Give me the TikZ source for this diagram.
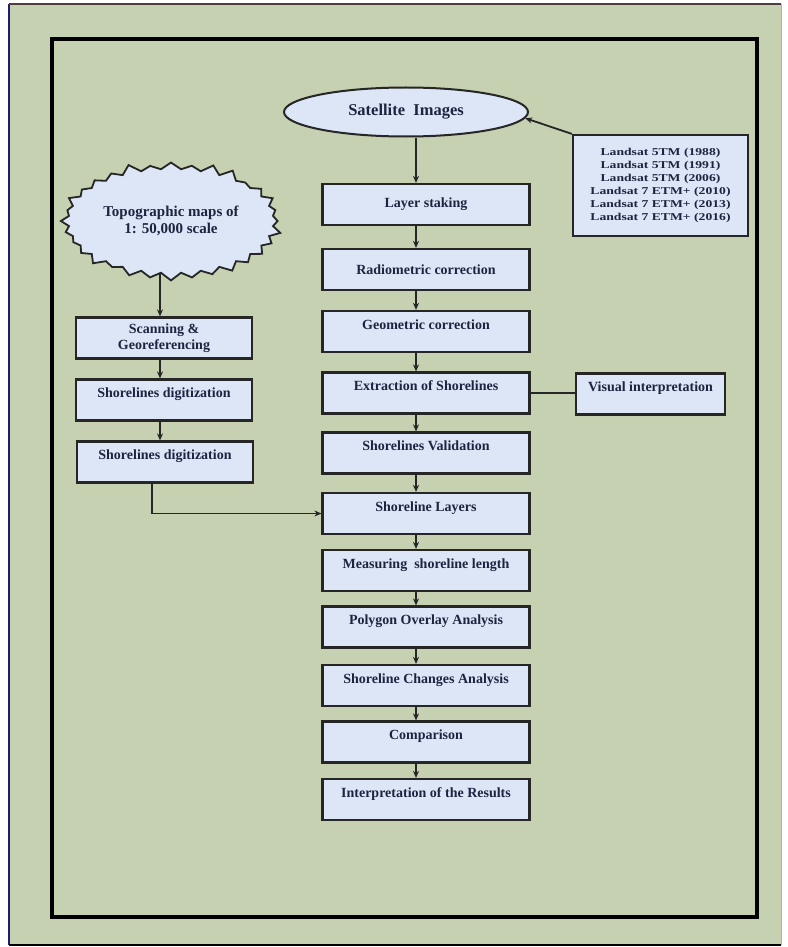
\documentclass[tikz,border=0pt]{standalone}
\usepackage{fontspec}
\setmainfont{Liberation Serif}
\newfontfamily\landfont[FakeStretch=1.3]{Liberation Serif}
\usepackage{tikz}
\usetikzlibrary{calc, shapes.geometric, shapes.symbols, arrows.meta, backgrounds}

\definecolor{bggreen}{RGB}{197,209,176}
\definecolor{boxblue}{RGB}{221,230,247}
\definecolor{navytext}{RGB}{30,36,64}
\definecolor{edgegray}{RGB}{38,38,38}
\definecolor{framenavy}{RGB}{30,30,110}
\definecolor{framebrown}{RGB}{80,60,60}

\begin{document}
\begin{tikzpicture}[x=1pt, y=-1pt,
  box/.style={rectangle, draw=edgegray, line width=2.2pt, fill=boxblue, text=navytext,
    font=\bfseries\fontsize{14}{16}\selectfont, minimum width=207pt, minimum height=41pt,
    inner sep=0pt, align=center},
  toptext/.style={text height=18pt, text depth=23pt},
  leftbox/.style={box, minimum width=176pt},
  arr/.style={-{Stealth[length=7pt, width=6pt]}, line width=1.8pt, draw=edgegray},
  link/.style={line width=1.8pt, draw=edgegray}]
  \useasboundingbox (0, 0) rectangle (787, 947);

% frames
  \begin{scope}[on background layer]
    \fill[white] (0, 0) rectangle (787, 947);
    \fill[bggreen] (9, 4) rectangle (781, 945);
    \draw[line width=2pt, framenavy] (9, 4) -- (9, 945);
    \draw[line width=2pt, framebrown] (9, 4) -- (781, 4);
    \draw[line width=2pt, black] (9, 945) -- (781, 945);
    \draw[line width=1pt, gray!60] (781, 4) -- (781, 945);
    \draw[line width=4pt, black] (52, 39) rectangle (757, 917);
  \end{scope}

  \coordinate (spine) at (416, 0);
  \coordinate (lspine) at (160, 0);
  \coordinate (drop) at (152, 0);

% main column
  \draw (406, 112) node[ellipse, draw=edgegray, line width=2pt, fill=boxblue, text=navytext,
    minimum width=244pt, minimum height=49pt, font=\bfseries\fontsize{16.5}{18}\selectfont] (sat) {Satellite~~Images};
  \draw (426, 204.5) node[box] (layer) {Layer staking};
  \draw ($(layer) + (0, 65)$) node[box] (radio) {Radiometric correction};
  \draw ($(radio) + (0, 62)$) node[box, toptext] (geo) {Geometric correction};
  \draw ($(geo) + (0, 61.5)$) node[box, toptext] (extract) {Extraction of Shorelines};
  \draw ($(extract) + (0, 60)$) node[box, toptext] (valid) {Shorelines Validation};
  \draw ($(valid) + (0, 60.5)$) node[box, toptext] (layers) {Shoreline Layers};
  \draw ($(layers) + (0, 57)$) node[box, toptext] (measure) {Measuring~~shoreline length};
  \draw ($(measure) + (0, 56.5)$) node[box, toptext] (polygon) {Polygon Overlay Analysis};
  \draw ($(polygon) + (0, 58.5)$) node[box, toptext] (changes) {Shoreline Changes Analysis};
  \draw ($(changes) + (0, 56.5)$) node[box, toptext] (compar) {Comparison};
  \draw ($(compar) + (0, 57.5)$) node[box, toptext] (interp) {Interpretation of the Results};

  \foreach \a/\b in {layer/radio, radio/geo, geo/extract, extract/valid, valid/layers,
    layers/measure, measure/polygon, polygon/changes, changes/compar, compar/interp}{
    \draw[arr] (\a.south -| spine) -- (\b.north -| spine);
  }
  \draw[arr] (sat.south -| spine) -- (layer.north -| spine);

% right side
  \draw (660.5, 185.5) node[box, minimum width=175pt, minimum height=101pt,
    font=\landfont\bfseries\fontsize{10.5}{13}\selectfont] (landsat)
    {Landsat 5TM (1988)\\Landsat 5TM (1991)\\Landsat 5TM (2006)\\Landsat 7 ETM+ (2010)\\Landsat 7 ETM+ (2013)\\Landsat 7 ETM+ (2016)};
  \draw[arr] (landsat.north west) -- (sat.-3);

  \draw (650.5, 394) node[box, toptext, minimum width=149pt] (visual) {Visual interpretation};
  \draw[link] (extract.east) -- (extract.east -| visual.west);

% left column
  \draw (171, 221) node[starburst, starburst points=32, starburst point height=9pt,
    draw=edgegray, line width=1.8pt, fill=boxblue, text=navytext, align=center,
    minimum width=223pt, minimum height=122pt, font=\bfseries\fontsize{15}{17}\selectfont] (topo)
    {Topographic maps of\\1: 50,000 scale};
  \draw (164, 338) node[leftbox] (scan) {Scanning \&\\Georeferencing};
  \draw ($(scan) + (0, 62)$) node[leftbox, toptext] (dig1) {Shorelines digitization};
  \draw ($(dig1) + (1, 62)$) node[leftbox, toptext] (dig2) {Shorelines digitization};

  \begin{scope}[on background layer]
    \draw[arr] (topo.center -| lspine) -- (scan.north -| lspine);
  \end{scope}
  \draw[arr] (scan.south -| lspine) -- (dig1.north -| lspine);
  \draw[arr] (dig1.south -| lspine) -- (dig2.north -| lspine);
  \draw[arr] (dig2.south -| drop) |- (layers.west);
\end{tikzpicture}
\end{document}
